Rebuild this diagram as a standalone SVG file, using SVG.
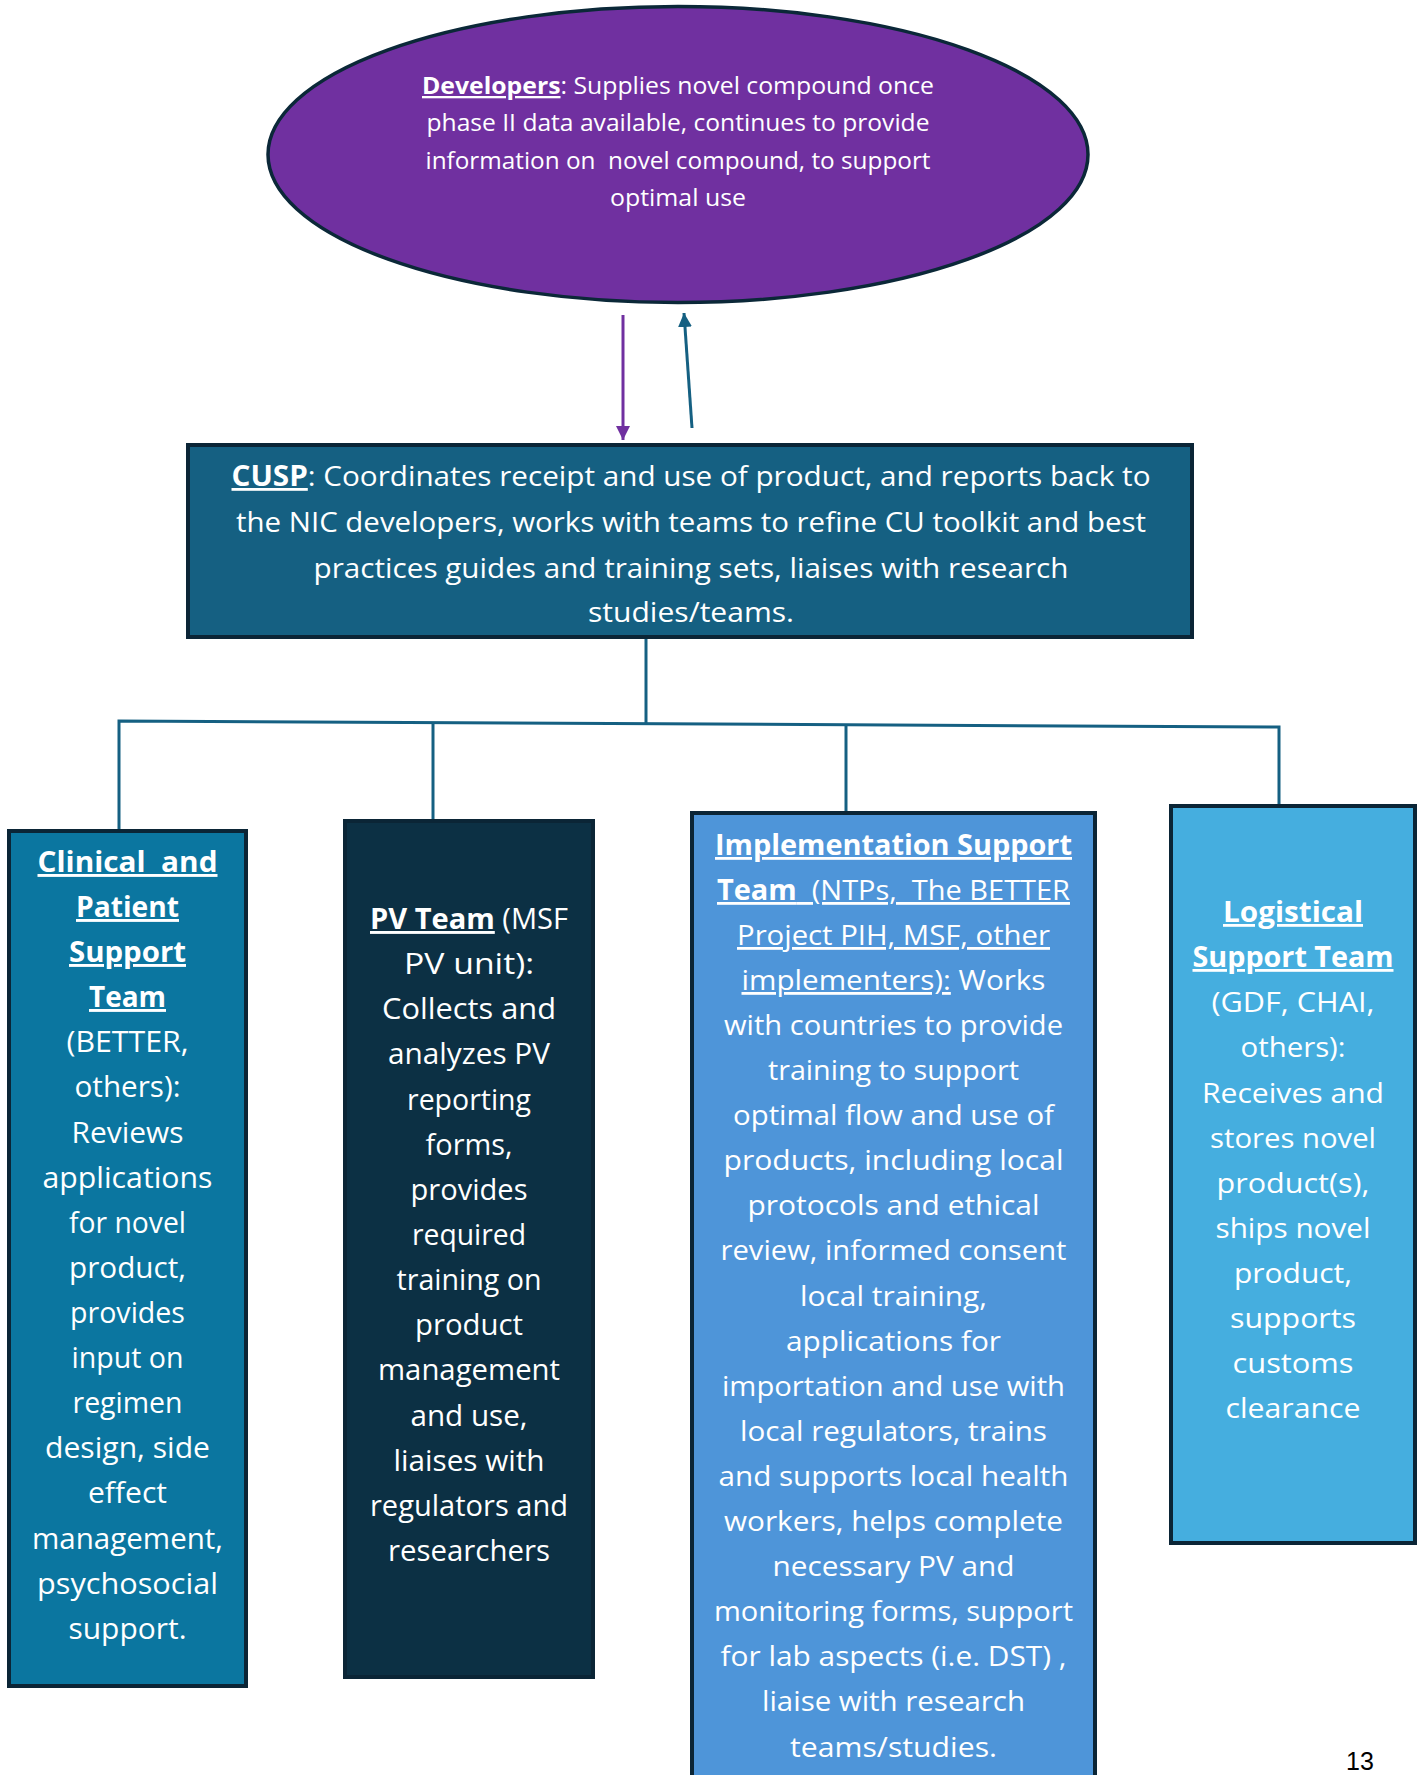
<svg xmlns="http://www.w3.org/2000/svg" width="1419" height="1775" viewBox="0 0 1419 1775">
<style>
.t{font-family:"Open Sans","Liberation Sans",sans-serif;fill:#ffffff;text-anchor:middle;}
.f23{font-size:23px}
.f28{font-size:28px}
.f29{font-size:29px}
.b{font-weight:bold}
.u{text-decoration:underline}
.box{stroke:#0b2536;stroke-width:4}
.con{fill:none;stroke:#156082;stroke-width:3}
</style>
<defs>
<marker id="ahP" markerUnits="userSpaceOnUse" markerWidth="14" markerHeight="16" refX="14" refY="7" orient="auto"><path d="M0,0 L14,7 L0,14 Z" fill="#7030A0"/></marker>
<marker id="ahT" markerUnits="userSpaceOnUse" markerWidth="14" markerHeight="16" refX="14" refY="7" orient="auto"><path d="M0,0 L14,7 L0,14 Z" fill="#156082"/></marker>
</defs>
<rect width="1419" height="1775" fill="#ffffff"/>

<g id="connectors">
<line x1="623" y1="315" x2="623" y2="440" stroke="#7030A0" stroke-width="3" marker-end="url(#ahP)"/>
<line x1="692" y1="428" x2="684" y2="313" stroke="#156082" stroke-width="3" marker-end="url(#ahT)"/>
<line class="con" x1="646" y1="637" x2="646" y2="724"/>
<polyline class="con" points="119,829 119,721 1279,727 1279,804"/>
<line class="con" x1="433" y1="722.5" x2="433" y2="819"/>
<line class="con" x1="846" y1="724.5" x2="846" y2="812"/>
</g>

<g id="developers">
<ellipse cx="678" cy="154.5" rx="410" ry="148" fill="#7030A0" stroke="#0b2838" stroke-width="3.5"/>
<text class="t f23" x="678" y="94" textLength="512" lengthAdjust="spacingAndGlyphs"><tspan class="b u">Developers</tspan>: Supplies novel compound once</text>
<text class="t f23" x="678" y="131" textLength="503" lengthAdjust="spacingAndGlyphs">phase II data available, continues to provide</text>
<text class="t f23" x="678" y="169" textLength="505" lengthAdjust="spacingAndGlyphs" xml:space="preserve">information on  novel compound, to support</text>
<text class="t f23" x="678" y="206" textLength="136" lengthAdjust="spacingAndGlyphs">optimal use</text>
</g>

<g id="cusp">
<rect class="box" x="188" y="445" width="1004" height="192" fill="#156082"/>
<text class="t f28" x="691" y="486" textLength="919" lengthAdjust="spacingAndGlyphs"><tspan class="b u">CUSP</tspan>: Coordinates receipt and use of product, and reports back to</text>
<text class="t f28" x="691" y="532" textLength="910" lengthAdjust="spacingAndGlyphs">the NIC developers, works with teams to refine CU toolkit and best</text>
<text class="t f28" x="691" y="578" textLength="755" lengthAdjust="spacingAndGlyphs">practices guides and training sets, liaises with research</text>
<text class="t f28" x="691" y="622" textLength="206" lengthAdjust="spacingAndGlyphs">studies/teams.</text>
</g>

<g id="clinical">
<rect class="box" x="9" y="831" width="237" height="855" fill="#0B76A0"/>
<text class="t f29 b u" x="127.5" y="872" textLength="180" lengthAdjust="spacingAndGlyphs" xml:space="preserve">Clinical  and</text>
<text class="t f29 b u" x="127.5" y="917" textLength="103" lengthAdjust="spacingAndGlyphs">Patient</text>
<text class="t f29 b u" x="127.5" y="962" textLength="117" lengthAdjust="spacingAndGlyphs">Support</text>
<text class="t f29 b u" x="127.5" y="1007" textLength="77" lengthAdjust="spacingAndGlyphs">Team</text>
<text class="t f29" x="127.5" y="1052" textLength="122" lengthAdjust="spacingAndGlyphs">(BETTER,</text>
<text class="t f29" x="127.5" y="1097" textLength="106" lengthAdjust="spacingAndGlyphs">others):</text>
<text class="t f29" x="127.5" y="1143" textLength="112" lengthAdjust="spacingAndGlyphs">Reviews</text>
<text class="t f29" x="127.5" y="1188" textLength="170" lengthAdjust="spacingAndGlyphs">applications</text>
<text class="t f29" x="127.5" y="1233" textLength="117" lengthAdjust="spacingAndGlyphs">for novel</text>
<text class="t f29" x="127.5" y="1278" textLength="117" lengthAdjust="spacingAndGlyphs">product,</text>
<text class="t f29" x="127.5" y="1323" textLength="115" lengthAdjust="spacingAndGlyphs">provides</text>
<text class="t f29" x="127.5" y="1368" textLength="112" lengthAdjust="spacingAndGlyphs">input on</text>
<text class="t f29" x="127.5" y="1413" textLength="110" lengthAdjust="spacingAndGlyphs">regimen</text>
<text class="t f29" x="127.5" y="1458" textLength="165" lengthAdjust="spacingAndGlyphs">design, side</text>
<text class="t f29" x="127.5" y="1503" textLength="79" lengthAdjust="spacingAndGlyphs">effect</text>
<text class="t f29" x="127.5" y="1549" textLength="191" lengthAdjust="spacingAndGlyphs">management,</text>
<text class="t f29" x="127.5" y="1594" textLength="181" lengthAdjust="spacingAndGlyphs">psychosocial</text>
<text class="t f29" x="127.5" y="1639" textLength="118" lengthAdjust="spacingAndGlyphs">support.</text>
</g>

<g id="pv-team">
<rect class="box" x="345" y="821" width="248" height="856" fill="#0c3044"/>
<text class="t f29" x="469" y="929" textLength="198" lengthAdjust="spacingAndGlyphs"><tspan class="b u">PV Team</tspan> (MSF</text>
<text class="t f29" x="469" y="974" textLength="130" lengthAdjust="spacingAndGlyphs">PV unit):</text>
<text class="t f29" x="469" y="1019" textLength="174" lengthAdjust="spacingAndGlyphs">Collects and</text>
<text class="t f29" x="469" y="1064" textLength="162" lengthAdjust="spacingAndGlyphs">analyzes PV</text>
<text class="t f29" x="469" y="1110" textLength="124" lengthAdjust="spacingAndGlyphs">reporting</text>
<text class="t f29" x="469" y="1155" textLength="87" lengthAdjust="spacingAndGlyphs">forms,</text>
<text class="t f29" x="469" y="1200" textLength="117" lengthAdjust="spacingAndGlyphs">provides</text>
<text class="t f29" x="469" y="1245" textLength="114" lengthAdjust="spacingAndGlyphs">required</text>
<text class="t f29" x="469" y="1290" textLength="145" lengthAdjust="spacingAndGlyphs">training on</text>
<text class="t f29" x="469" y="1335" textLength="108" lengthAdjust="spacingAndGlyphs">product</text>
<text class="t f29" x="469" y="1380" textLength="182" lengthAdjust="spacingAndGlyphs">management</text>
<text class="t f29" x="469" y="1426" textLength="117" lengthAdjust="spacingAndGlyphs">and use,</text>
<text class="t f29" x="469" y="1471" textLength="151" lengthAdjust="spacingAndGlyphs">liaises with</text>
<text class="t f29" x="469" y="1516" textLength="198" lengthAdjust="spacingAndGlyphs">regulators and</text>
<text class="t f29" x="469" y="1561" textLength="162" lengthAdjust="spacingAndGlyphs">researchers</text>
</g>

<g id="implementation">
<rect class="box" x="692" y="813" width="403" height="990" fill="#4E95D9"/>
<text class="t f28 b u" x="893.5" y="855" textLength="357" lengthAdjust="spacingAndGlyphs">Implementation Support</text>
<text class="t f28 u" x="893.5" y="900" textLength="353" lengthAdjust="spacingAndGlyphs" xml:space="preserve"><tspan class="b">Team</tspan>  (NTPs,  The BETTER</text>
<text class="t f28 u" x="893.5" y="945" textLength="313" lengthAdjust="spacingAndGlyphs">Project PIH, MSF, other</text>
<text class="t f28" x="893.5" y="990" textLength="304" lengthAdjust="spacingAndGlyphs"><tspan class="u">implementers):</tspan> Works</text>
<text class="t f28" x="893.5" y="1035" textLength="339" lengthAdjust="spacingAndGlyphs">with countries to provide</text>
<text class="t f28" x="893.5" y="1080" textLength="251" lengthAdjust="spacingAndGlyphs">training to support</text>
<text class="t f28" x="893.5" y="1125" textLength="321" lengthAdjust="spacingAndGlyphs">optimal flow and use of</text>
<text class="t f28" x="893.5" y="1170" textLength="340" lengthAdjust="spacingAndGlyphs">products, including local</text>
<text class="t f28" x="893.5" y="1215" textLength="292" lengthAdjust="spacingAndGlyphs">protocols and ethical</text>
<text class="t f28" x="893.5" y="1260" textLength="346" lengthAdjust="spacingAndGlyphs">review, informed consent</text>
<text class="t f28" x="893.5" y="1306" textLength="187" lengthAdjust="spacingAndGlyphs">local training,</text>
<text class="t f28" x="893.5" y="1351" textLength="215" lengthAdjust="spacingAndGlyphs">applications for</text>
<text class="t f28" x="893.5" y="1396" textLength="343" lengthAdjust="spacingAndGlyphs">importation and use with</text>
<text class="t f28" x="893.5" y="1441" textLength="307" lengthAdjust="spacingAndGlyphs">local regulators, trains</text>
<text class="t f28" x="893.5" y="1486" textLength="350" lengthAdjust="spacingAndGlyphs">and supports local health</text>
<text class="t f28" x="893.5" y="1531" textLength="339" lengthAdjust="spacingAndGlyphs">workers, helps complete</text>
<text class="t f28" x="893.5" y="1576" textLength="242" lengthAdjust="spacingAndGlyphs">necessary PV and</text>
<text class="t f28" x="893.5" y="1621" textLength="359" lengthAdjust="spacingAndGlyphs">monitoring forms, support</text>
<text class="t f28" x="893.5" y="1666" textLength="346" lengthAdjust="spacingAndGlyphs">for lab aspects (i.e. DST) ,</text>
<text class="t f28" x="893.5" y="1711" textLength="263" lengthAdjust="spacingAndGlyphs">liaise with research</text>
<text class="t f28" x="893.5" y="1757" textLength="207" lengthAdjust="spacingAndGlyphs">teams/studies.</text>
</g>

<g id="logistical">
<rect class="box" x="1171" y="806" width="244" height="737" fill="#45AEDF"/>
<text class="t f28 b u" x="1293" y="922" textLength="140" lengthAdjust="spacingAndGlyphs">Logistical</text>
<text class="t f28 b u" x="1293" y="967" textLength="201" lengthAdjust="spacingAndGlyphs">Support Team</text>
<text class="t f28" x="1293" y="1012" textLength="163" lengthAdjust="spacingAndGlyphs">(GDF, CHAI,</text>
<text class="t f28" x="1293" y="1057" textLength="105" lengthAdjust="spacingAndGlyphs">others):</text>
<text class="t f28" x="1293" y="1103" textLength="182" lengthAdjust="spacingAndGlyphs">Receives and</text>
<text class="t f28" x="1293" y="1148" textLength="166" lengthAdjust="spacingAndGlyphs">stores novel</text>
<text class="t f28" x="1293" y="1193" textLength="153" lengthAdjust="spacingAndGlyphs">product(s),</text>
<text class="t f28" x="1293" y="1238" textLength="155" lengthAdjust="spacingAndGlyphs">ships novel</text>
<text class="t f28" x="1293" y="1283" textLength="118" lengthAdjust="spacingAndGlyphs">product,</text>
<text class="t f28" x="1293" y="1328" textLength="126" lengthAdjust="spacingAndGlyphs">supports</text>
<text class="t f28" x="1293" y="1373" textLength="121" lengthAdjust="spacingAndGlyphs">customs</text>
<text class="t f28" x="1293" y="1418" textLength="135" lengthAdjust="spacingAndGlyphs">clearance</text>
</g>

<text x="1360" y="1770" font-family="Liberation Sans, Arial, sans-serif" font-size="25" fill="#000000" text-anchor="middle">13</text>
</svg>
